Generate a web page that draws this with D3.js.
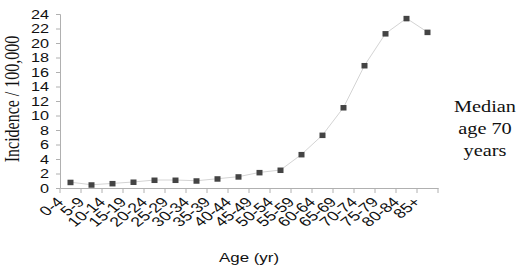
<!DOCTYPE html>
<html><head><meta charset="utf-8">
<script src="https://cdn.jsdelivr.net/npm/d3@7"></script>
<style>html,body{margin:0;padding:0;background:#fff;}</style>
</head><body>
<script>
const categories = ["0-4","5-9","10-14","15-19","20-24","25-29","30-34","35-39","40-44","45-49","50-54","55-59","60-64","65-69","70-74","75-79","80-84","85+"];
const incidence = [0.8,0.45,0.63,0.83,1.1,1.1,1.0,1.28,1.56,2.15,2.48,4.63,7.3,11.1,16.9,21.3,23.4,21.5];
const yTicks = [0,2,4,6,8,10,12,14,16,18,20,22,24];
const yTitle = "Incidence / 100,000";
const xTitle = "Age (yr)";
const noteLines = ["Median","age 70","years"];

const W = 520, H = 269, S = 1.3;
const svg = d3.select("body").append("svg").attr("width", W).attr("height", H);

const x = d3.scaleBand().domain(categories).range([60, 438]);
const y = d3.scaleLinear().domain([0, 24]).range([188, 14]);

// x axis
const xAxis = d3.axisBottom(x).tickSize(0).tickFormat("");
const gx = svg.append("g").attr("transform", "translate(0,188)").call(xAxis);
gx.select(".domain").attr("stroke", "#b0b0b0");
const bounds = categories.map(c => x(c)).concat([x.range()[1]]);
gx.selectAll("line.bt").data(bounds).enter().append("line").attr("class","bt")
  .attr("x1", d => d).attr("x2", d => d).attr("y1", 0).attr("y2", 5).attr("stroke", "#b0b0b0");
svg.append("g").selectAll("text").data(categories).enter().append("text")
  .attr("transform", d => `translate(${x(d) + x.bandwidth()/2 - 6},203) scale(${S},1) rotate(-45)`)
  .attr("text-anchor", "end").attr("font-family", "Liberation Sans, Arial, sans-serif")
  .attr("font-size", 13.5).attr("fill", "#111").text(d => d);

// y axis
const gy = svg.append("g").attr("transform", "translate(60,0)")
  .call(d3.axisLeft(y).tickValues(yTicks).tickSize(4).tickFormat(""));
gy.select(".domain").attr("stroke", "#b0b0b0");
gy.selectAll(".tick line").attr("stroke", "#b0b0b0");
svg.append("g").selectAll("text").data(yTicks).enter().append("text")
  .attr("transform", d => `translate(49,${y(d) + 4.5}) scale(${S},1)`)
  .attr("text-anchor", "end").attr("font-family", "Liberation Sans, Arial, sans-serif")
  .attr("font-size", 12.5).attr("fill", "#111").text(d => d);

// line
const cx = d => x(d) + x.bandwidth()/2;
svg.append("path").datum(categories.map((c,i)=>[c,incidence[i]]))
  .attr("fill","none").attr("stroke","#d4d4d4").attr("stroke-width",1)
  .attr("d", d3.line().x(d=>cx(d[0])).y(d=>y(d[1])));
svg.append("g").selectAll("rect").data(categories).enter().append("rect")
  .attr("x", d => cx(d) - 3).attr("y", (d,i) => y(incidence[i]) - 2.5)
  .attr("width", 6).attr("height", 5.5).attr("fill", "#444");

// titles
svg.append("text").attr("transform", `translate(19,99) scale(${S},1) rotate(-90)`)
  .attr("text-anchor","middle").attr("font-family","Liberation Serif, Times New Roman, serif")
  .attr("font-size",16).attr("fill","#111").text(yTitle);
svg.append("text").attr("transform", `translate(249,262) scale(${S},1)`)
  .attr("text-anchor","middle").attr("font-family","Liberation Sans, Arial, sans-serif")
  .attr("font-size",13).attr("fill","#111").text(xTitle);
svg.append("g").selectAll("text").data(noteLines).enter().append("text")
  .attr("transform", (d,i) => `translate(485,${112 + i*22}) scale(1.27,1)`)
  .attr("text-anchor","middle").attr("font-family","Liberation Serif, Times New Roman, serif")
  .attr("font-size",16).attr("fill","#111").text(d => d);
</script>
</body></html>
